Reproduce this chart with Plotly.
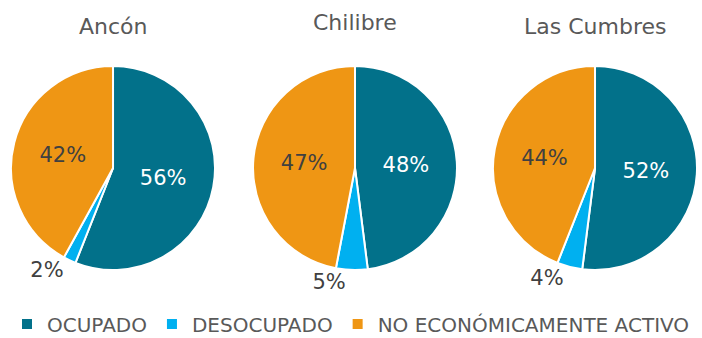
import plotly.graph_objects as go

# Labour-force status by corregimiento (percent of population)
categories = ["OCUPADO", "DESOCUPADO", "NO ECONÓMICAMENTE ACTIVO"]
places = ["Ancón", "Chilibre", "Las Cumbres"]
ancon = [56, 2, 42]
chilibre = [48, 5, 47]
las_cumbres = [52, 4, 44]
series = [ancon, chilibre, las_cumbres]

colors = ["#02718A", "#00B0F0", "#EF9614"]
font_family = "DejaVu Sans"
text_dark = "#404040"

domains_x = [[0.0157, 0.3063], [0.3604, 0.6510], [0.7023, 0.9929]]
domain_y = [0.2012, 0.8047]
title_y = [0.923, 0.932, 0.923]

fig = go.Figure()
for i, (place, vals) in enumerate(zip(places, series)):
    fig.add_trace(go.Pie(
        labels=categories,
        values=vals,
        sort=False,
        direction="clockwise",
        rotation=0,
        domain=dict(x=domains_x[i], y=domain_y),
        marker=dict(colors=colors, line=dict(color="white", width=2)),
        texttemplate="%{value}%",
        textposition=["inside", "outside", "inside"],
        insidetextorientation="horizontal",
        insidetextfont=dict(color=["white", text_dark, text_dark], size=21, family=font_family),
        outsidetextfont=dict(color=text_dark, size=21, family=font_family),
        hoverinfo="label+percent",
        showlegend=(i == 0),
        name=place,
    ))
    fig.add_annotation(
        text=place, x=sum(domains_x[i]) / 2, y=title_y[i],
        xref="paper", yref="paper", xanchor="center", yanchor="middle",
        showarrow=False,
        font=dict(size=22, color="#595959", family=font_family),
    )

fig.update_layout(
    width=702, height=338,
    margin=dict(l=0, r=0, t=0, b=0, autoexpand=False),
    paper_bgcolor="white",
    plot_bgcolor="white",
    font=dict(family=font_family, color=text_dark),
    legend=dict(
        orientation="h", x=0.5, xanchor="center", y=0.099, yanchor="top",
        font=dict(size=20, color="#595959", family=font_family),
        traceorder="normal",
    ),
)

fig.write_html("out.html")
